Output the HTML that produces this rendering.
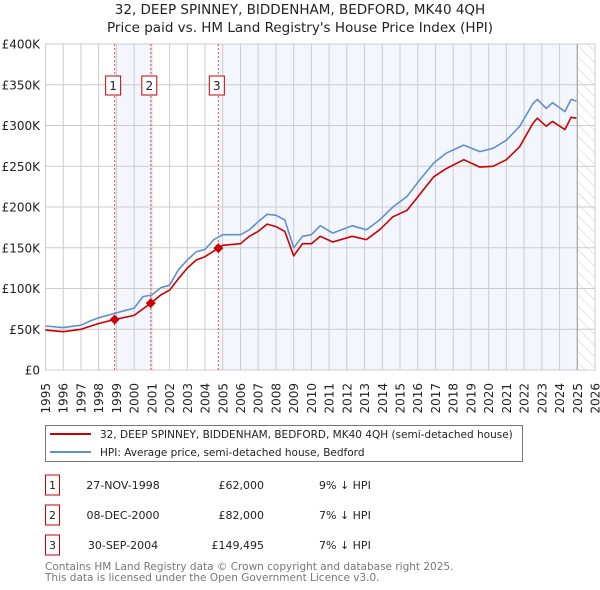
<!DOCTYPE html>
<html><head><meta charset="utf-8"><style>
body{margin:0;background:#fff;font-family:"DejaVu Sans","Liberation Sans",sans-serif;}
#wrap{position:relative;width:600px;height:590px;overflow:hidden;}
svg text{font-family:"DejaVu Sans","Liberation Sans",sans-serif;}
</style></head><body><div id="wrap">
<svg id="chart" width="600" height="590"></svg>
</div>
<script>
const hpiYears=[1995,1996,1997,1997.5,1998,1999,2000,2000.5,2001,2001.5,2002,2002.5,2003,2003.5,2004,2004.5,2005,2006,2006.5,2007,2007.5,2008,2008.5,2009,2009.5,2010,2010.5,2011.2,2012.3,2013.1,2013.85,2014.6,2015.4,2016.1,2016.9,2017.6,2018.6,2019.5,2020.25,2021,2021.75,2022.5,2022.75,2023.25,2023.6,2024.3,2024.65,2024.95];
const hpiValues=[54,52,55,60,64,70,76,90,92,101,104,123,135,145,148,160,166,166,172,182,191,190,184,150,164,166,177,168,177,172,184,200,213,233,254,266,276,268,272,282,299,327,332,321,328,317,332,330];
const priceYears=[1995,1996,1997,1998,1998.9,2000,2000.94,2001.5,2002,2002.5,2003,2003.5,2004,2004.75,2005,2006,2006.5,2007,2007.5,2008,2008.5,2009,2009.5,2010,2010.5,2011.2,2012.3,2013.1,2013.85,2014.6,2015.4,2016.1,2016.9,2017.6,2018.6,2019.5,2020.25,2021,2021.75,2022.5,2022.75,2023.25,2023.6,2024.3,2024.65,2024.95];
const priceValues=[49,47,50,57,62,67,82,92,98,112,125,135,139,149.5,153,155,164,170,179,176,170,140,155,155,164,157,164,160,172,188,196,215,237,247,258,249,250,258,274,303,309,299,305,295,310,309];
const saleYears=[1998.9,2000.94,2004.75];
const saleValues=[62,82,149.495];
const saleLabels=["1","2","3"];
const yTicks=[0,50,100,150,200,250,300,350,400];
const yTickLabels=["£0","£50K","£100K","£150K","£200K","£250K","£300K","£350K","£400K"];
const xTicks=[1995,1996,1997,1998,1999,2000,2001,2002,2003,2004,2005,2006,2007,2008,2009,2010,2011,2012,2013,2014,2015,2016,2017,2018,2019,2020,2021,2022,2023,2024,2025,2026];

const X0=45.5,X1=595,Y0=370,YT=44;
const xs=t=>X0+(t-1995)*(X1-X0)/31;
const ys=v=>Y0-v*(Y0-YT)/400;
const NS="http://www.w3.org/2000/svg";
const svg=document.getElementById('chart');
function mk(tag,attrs,parent){const e=document.createElementNS(NS,tag);for(const k in attrs)e.setAttribute(k,attrs[k]);(parent||svg).appendChild(e);return e;}

let t1=mk('text',{x:300,y:14,'text-anchor':'middle','font-size':13.5,fill:'#222'});t1.textContent="32, DEEP SPINNEY, BIDDENHAM, BEDFORD, MK40 4QH";


let t2=mk('text',{x:300,y:32,'text-anchor':'middle','font-size':13.5,fill:'#222'});t2.textContent="Price paid vs. HM Land Registry's House Price Index (HPI)";



const sh1=mk('rect',{x:xs(saleYears[0]),y:YT,width:xs(saleYears[1])-xs(saleYears[0]),height:Y0-YT,fill:'#f3f6fd'});


const sh2=mk('rect',{x:xs(saleYears[2]),y:YT,width:xs(2025)-xs(saleYears[2]),height:Y0-YT,fill:'#f3f6fd'});


const defs=mk('defs',{});
const pat=mk('pattern',{id:'hatch',width:8,height:8,patternUnits:'userSpaceOnUse',patternTransform:'rotate(-45)'},defs);
mk('line',{x1:0,y1:0,x2:0,y2:8,stroke:'#ccc','stroke-width':1},pat);
const hr=mk('rect',{x:xs(2025),y:YT,width:X1-xs(2025),height:Y0-YT,fill:'url(#hatch)'});



xTicks.forEach(t=>{
  const l=mk('line',{x1:xs(t),x2:xs(t),y1:YT,y2:Y0,stroke:'#ccc','stroke-width':1});
  
  
  const tx=mk('text',{x:0,y:0,'font-size':12,fill:'#222','text-anchor':'end',transform:`translate(${xs(t)+4.5},383) rotate(-90)`});
  tx.textContent=t;
  
  
});
yTicks.forEach((v,i)=>{
  const l=mk('line',{x1:X0,x2:X1,y1:ys(v),y2:ys(v),stroke:'#ccc','stroke-width':1});
  
  
  const tx=mk('text',{x:40,y:ys(v)+4.5,'font-size':12,fill:'#222','text-anchor':'end'});
  tx.textContent=yTickLabels[i];
  
  
});
const br=mk('rect',{x:X0,y:YT,width:X1-X0,height:Y0-YT,fill:'none',stroke:'#ccc'});


const nowl=mk('line',{x1:xs(2025),x2:xs(2025),y1:YT,y2:Y0,stroke:'#999','stroke-width':1});



saleYears.forEach((s,i)=>{
  const l=mk('line',{x1:xs(s),x2:xs(s),y1:YT,y2:Y0,stroke:'#e05050','stroke-width':1,'stroke-dasharray':'2,2'});
  
  
  const bx=mk('rect',{x:xs(s)-9,y:76,width:15,height:19,fill:'#fff',stroke:'#c00','stroke-width':1});
  
  
  const tx=mk('text',{x:xs(s)-1.5,y:90,'text-anchor':'middle','font-size':12,fill:'#222'});
  tx.textContent=saleLabels[i];
  
  
});

function path(xa,va,color,name){
  const d=xa.map((t,i)=>(i?'L':'M')+xs(t).toFixed(1)+','+ys(va[i]).toFixed(1)).join('');
  const p=mk('path',{d:d,fill:'none',stroke:color,'stroke-width':1.6,'stroke-linejoin':'round'});
  
  
}
path(hpiYears,hpiValues,'#6090d0','hpi-line');
path(priceYears,priceValues,'#cc0000','price-paid-line');
saleYears.forEach((s,i)=>{
  const x=xs(s),y=ys(saleValues[i]);
  const d=mk('path',{d:`M${x},${y-5}L${x+5},${y}L${x},${y+5}L${x-5},${y}Z`,fill:'#cc0000'});
  
  
});

const lg=mk('rect',{x:45.5,y:425.5,width:477,height:36,fill:'#fff',stroke:'#777'});


[[434,'#cc0000',"32, DEEP SPINNEY, BIDDENHAM, BEDFORD, MK40 4QH (semi-detached house)"],[452,'#6090d0',"HPI: Average price, semi-detached house, Bedford"]].forEach((r,i)=>{
  const l=mk('line',{x1:50,x2:91,y1:r[0],y2:r[0],stroke:r[1],'stroke-width':2});
  
  
  const tx=mk('text',{x:100,y:r[0]+4,'font-size':10.5,fill:'#222'});
  tx.textContent=r[2];
  
  
});

const rows=[["1","27-NOV-1998","£62,000","9% ↓ HPI"],["2","08-DEC-2000","£82,000","7% ↓ HPI"],["3","30-SEP-2004","£149,495","7% ↓ HPI"]];
rows.forEach((r,i)=>{
  const cy=485+i*30;
  const b=mk('rect',{x:45.5,y:cy-10,width:14,height:20,fill:'#fff',stroke:'#c00'});
  
  
  const a=mk('text',{x:52.5,y:cy+4,'text-anchor':'middle','font-size':11,fill:'#222'});a.textContent=r[0];
  
  
  const d=mk('text',{x:123,y:cy+4,'text-anchor':'middle','font-size':11,fill:'#222'});d.textContent=r[1];
  
  
  const p=mk('text',{x:264,y:cy+4,'text-anchor':'end','font-size':11,fill:'#222'});p.textContent=r[2];
  
  
  const h=mk('text',{x:319,y:cy+4,'font-size':11,fill:'#222'});h.textContent=r[3];
  
  
});
const f1=mk('text',{x:45,y:570,'font-size':10.5,fill:'#777'});f1.textContent="Contains HM Land Registry data © Crown copyright and database right 2025.";


const f2=mk('text',{x:45,y:581,'font-size':10.5,fill:'#777'});f2.textContent="This data is licensed under the Open Government Licence v3.0.";


</script></body></html>
